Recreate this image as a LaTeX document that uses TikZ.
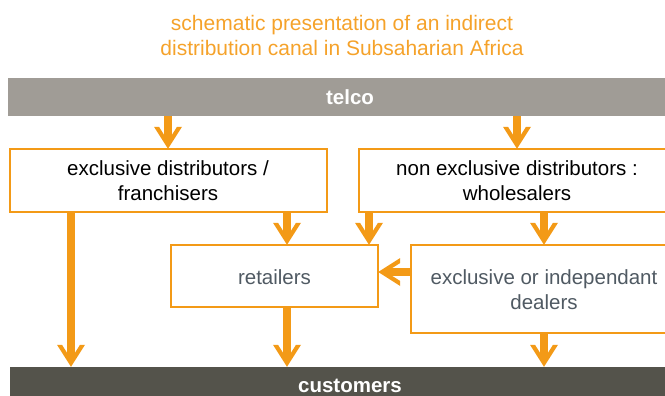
\documentclass[tikz,border=0pt]{standalone}
\usepackage{fontspec}
\setmainfont{Liberation Sans}
\usetikzlibrary{arrows.meta}
\definecolor{orA}{HTML}{F39A17}
\definecolor{orT}{HTML}{F5A22A}
\definecolor{telcoG}{HTML}{A09C96}
\definecolor{custG}{HTML}{54534B}
\definecolor{txtG}{HTML}{505A63}
\pgfdeclarearrow{
  name=Chev,
  setup code={
    \pgfarrowssettipend{0pt}
    \pgfarrowssetlineend{-13pt}
    \pgfarrowssetvisualbackend{-22pt}
    \pgfarrowssetbackend{-22pt}
    \pgfarrowshullpoint{0pt}{0pt}
    \pgfarrowsupperhullpoint{-22pt}{14pt}
  },
  drawing code={
    \pgfpathmoveto{\pgfpoint{0pt}{0pt}}
    \pgfpathlineto{\pgfpoint{-22pt}{14pt}}
    \pgfpathlineto{\pgfpoint{-22pt}{9pt}}
    \pgfpathlineto{\pgfpoint{-14.1pt}{4pt}}
    \pgfpathlineto{\pgfpoint{-14.1pt}{-4pt}}
    \pgfpathlineto{\pgfpoint{-22pt}{-9pt}}
    \pgfpathlineto{\pgfpoint{-22pt}{-14pt}}
    \pgfpathclose
    \pgfusepathqfill
  }
}
\tikzset{
  arr/.style={draw=orA, fill=orA, line width=8pt, -Chev},
  box/.style={draw=orA, line width=1.3pt, fill=white, inner sep=0pt},
  bar/.style={inner sep=0pt, draw=none},
  lbl/.style={font=\fontsize{20.5}{25}\selectfont, align=center},
}
\begin{document}
\begin{tikzpicture}[x=1pt,y=-1pt]
\useasboundingbox (0,0) rectangle (665,396);
% title
\node[lbl, text=orT, font=\fontsize{21}{25}\selectfont] (title) at (342,35) {schematic presentation of an indirect\\distribution canal in Subsaharian Africa};
% bars
\path[fill=telcoG] (8,78) rectangle (680,116);
\node[bar, minimum width=672pt, minimum height=38pt] (telco) at (344,97) {};
\node[lbl, text=white, font=\bfseries\fontsize{20.5}{25}\selectfont] at (350,97) {telco};
\path[fill=custG] (10,367) rectangle (680,420);
\node[bar, minimum width=670pt, minimum height=53pt] (cust) at (345,393.5) {};
\node[lbl, text=white, font=\bfseries\fontsize{20.5}{25}\selectfont] at (350,386) {customers};
% boxes
\draw[box] (10,149) rectangle (327,212);
\node[bar, minimum width=317pt, minimum height=63pt] (lbox) at (168.5,180.5) {};
\node[lbl, text=black] at (168,181) {exclusive distributors /\\franchisers};
\draw[box] (359,149) rectangle (680,212);
\node[bar, minimum width=321pt, minimum height=63pt] (rbox) at (519.5,180.5) {};
\node[lbl, text=black] at (517,181) {non exclusive distributors :\\wholesalers};
\draw[box] (171,245) rectangle (378,307);
\node[bar, minimum width=207pt, minimum height=62pt] (ret) at (274.5,276) {};
\node[lbl, text=txtG] at (274.5,277) {retailers};
\draw[box] (411,245) rectangle (680,333);
\node[bar, minimum width=269pt, minimum height=88pt] (deal) at (545.5,289) {};
\node[lbl, text=txtG] at (544,290) {exclusive or independant\\dealers};
% connector anchors
\coordinate (xa) at (168,0);
\coordinate (xb) at (517,0);
\coordinate (xc) at (71,0);
\coordinate (xd) at (287,0);
\coordinate (xe) at (369,0);
\coordinate (xf) at (544,0);
\coordinate (yh) at (0,272);
% arrows
\draw[arr] (telco.south -| xa) -- (lbox.north -| xa);
\draw[arr] (telco.south -| xb) -- (rbox.north -| xb);
\draw[arr] (lbox.south -| xc) -- (cust.north -| xc);
\draw[arr] (lbox.south -| xd) -- (ret.north -| xd);
\draw[arr] (rbox.south -| xe) -- (ret.north -| xe);
\draw[arr] (rbox.south -| xf) -- (deal.north -| xf);
\draw[arr] (deal.west |- yh) -- (ret.east |- yh);
\draw[arr] (ret.south -| xd) -- (cust.north -| xd);
\draw[arr] (deal.south -| xf) -- (cust.north -| xf);
\end{tikzpicture}
\end{document}
